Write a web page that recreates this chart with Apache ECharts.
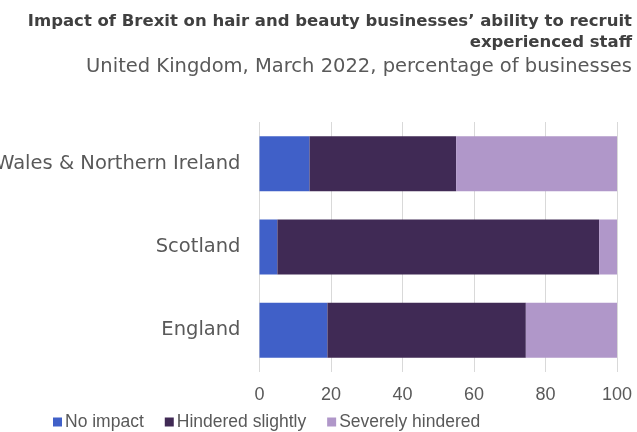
<!DOCTYPE html>
<html>
<head>
<meta charset="utf-8">
<script src="https://cdn.jsdelivr.net/npm/echarts@6/dist/echarts.min.js"></script>
<style>
  html, body { margin: 0; padding: 0; background: #ffffff; }
  #chart { width: 637px; height: 432px; }
</style>
</head>
<body>
<div id="chart"></div>
<script>
// Nations, listed bottom to top on the category axis
const nations = ['England', 'Scotland', 'Wales & Northern Ireland'];

// Share of businesses (%) per impact level
const noImpact = [19, 5, 14];
const hinderedSlightly = [55.5, 90, 41];
const severelyHindered = [25.5, 5, 45];

const xTicks = [0, 20, 40, 60, 80, 100];

const titleLines = [
  'Impact of Brexit on hair and beauty businesses\u2019 ability to recruit',
  'experienced staff'
];
const subtitle = 'United Kingdom, March 2022, percentage of businesses';

const FONT = '"Liberation Sans", Arial, sans-serif';
const WIDE = '"DejaVu Sans", sans-serif';

const chart = echarts.init(document.getElementById('chart'), null, { renderer: 'canvas' });

function barSeries(name, data, color) {
  return {
    name: name,
    type: 'bar',
    stack: 'total',
    data: data,
    barWidth: 55,
    itemStyle: { color: color },
    emphasis: { disabled: true }
  };
}

function headingText(text, y, size, weight, color) {
  return {
    type: 'text',
    right: 5,
    top: y,
    style: {
      text: text,
      fill: color,
      font: weight + ' ' + size + 'px ' + WIDE,
      textAlign: 'right'
    }
  };
}

chart.setOption({
  animation: false,
  backgroundColor: '#ffffff',
  graphic: [
    headingText(titleLines[0], 13, 16.5, 'bold', '#404040'),
    headingText(titleLines[1], 34, 16.5, 'bold', '#404040'),
    headingText(subtitle, 57, 19.5, 'normal', '#595959')
  ],
  legend: {
    left: 53,
    bottom: 1,
    padding: 0,
    icon: 'rect',
    itemWidth: 9,
    itemHeight: 9,
    itemGap: 21,
    textStyle: { fontFamily: FONT, fontSize: 17.5, color: '#595959', padding: [0, 0, 0, -2] },
    data: ['No impact', 'Hindered slightly', 'Severely hindered']
  },
  grid: {
    left: 259.5,
    right: 20,
    top: 122,
    bottom: 60,
    containLabel: false,
    outerBoundsMode: 'none'
  },
  xAxis: {
    type: 'value',
    min: xTicks[0],
    max: xTicks[xTicks.length - 1],
    interval: 20,
    axisLine: { show: false },
    axisTick: { show: false },
    splitLine: { show: true, lineStyle: { color: '#d9d9d9', width: 1 } },
    axisLabel: { fontFamily: FONT, fontSize: 18, color: '#595959', margin: 14 }
  },
  yAxis: {
    type: 'category',
    data: nations,
    axisLine: { show: false },
    axisTick: { show: false },
    axisLabel: { fontFamily: WIDE, fontSize: 19.5, color: '#595959', margin: 19 }
  },
  series: [
    barSeries('No impact', noImpact, '#4060c8'),
    barSeries('Hindered slightly', hinderedSlightly, '#402a55'),
    barSeries('Severely hindered', severelyHindered, '#b097c9')
  ]
});
</script>
</body>
</html>
